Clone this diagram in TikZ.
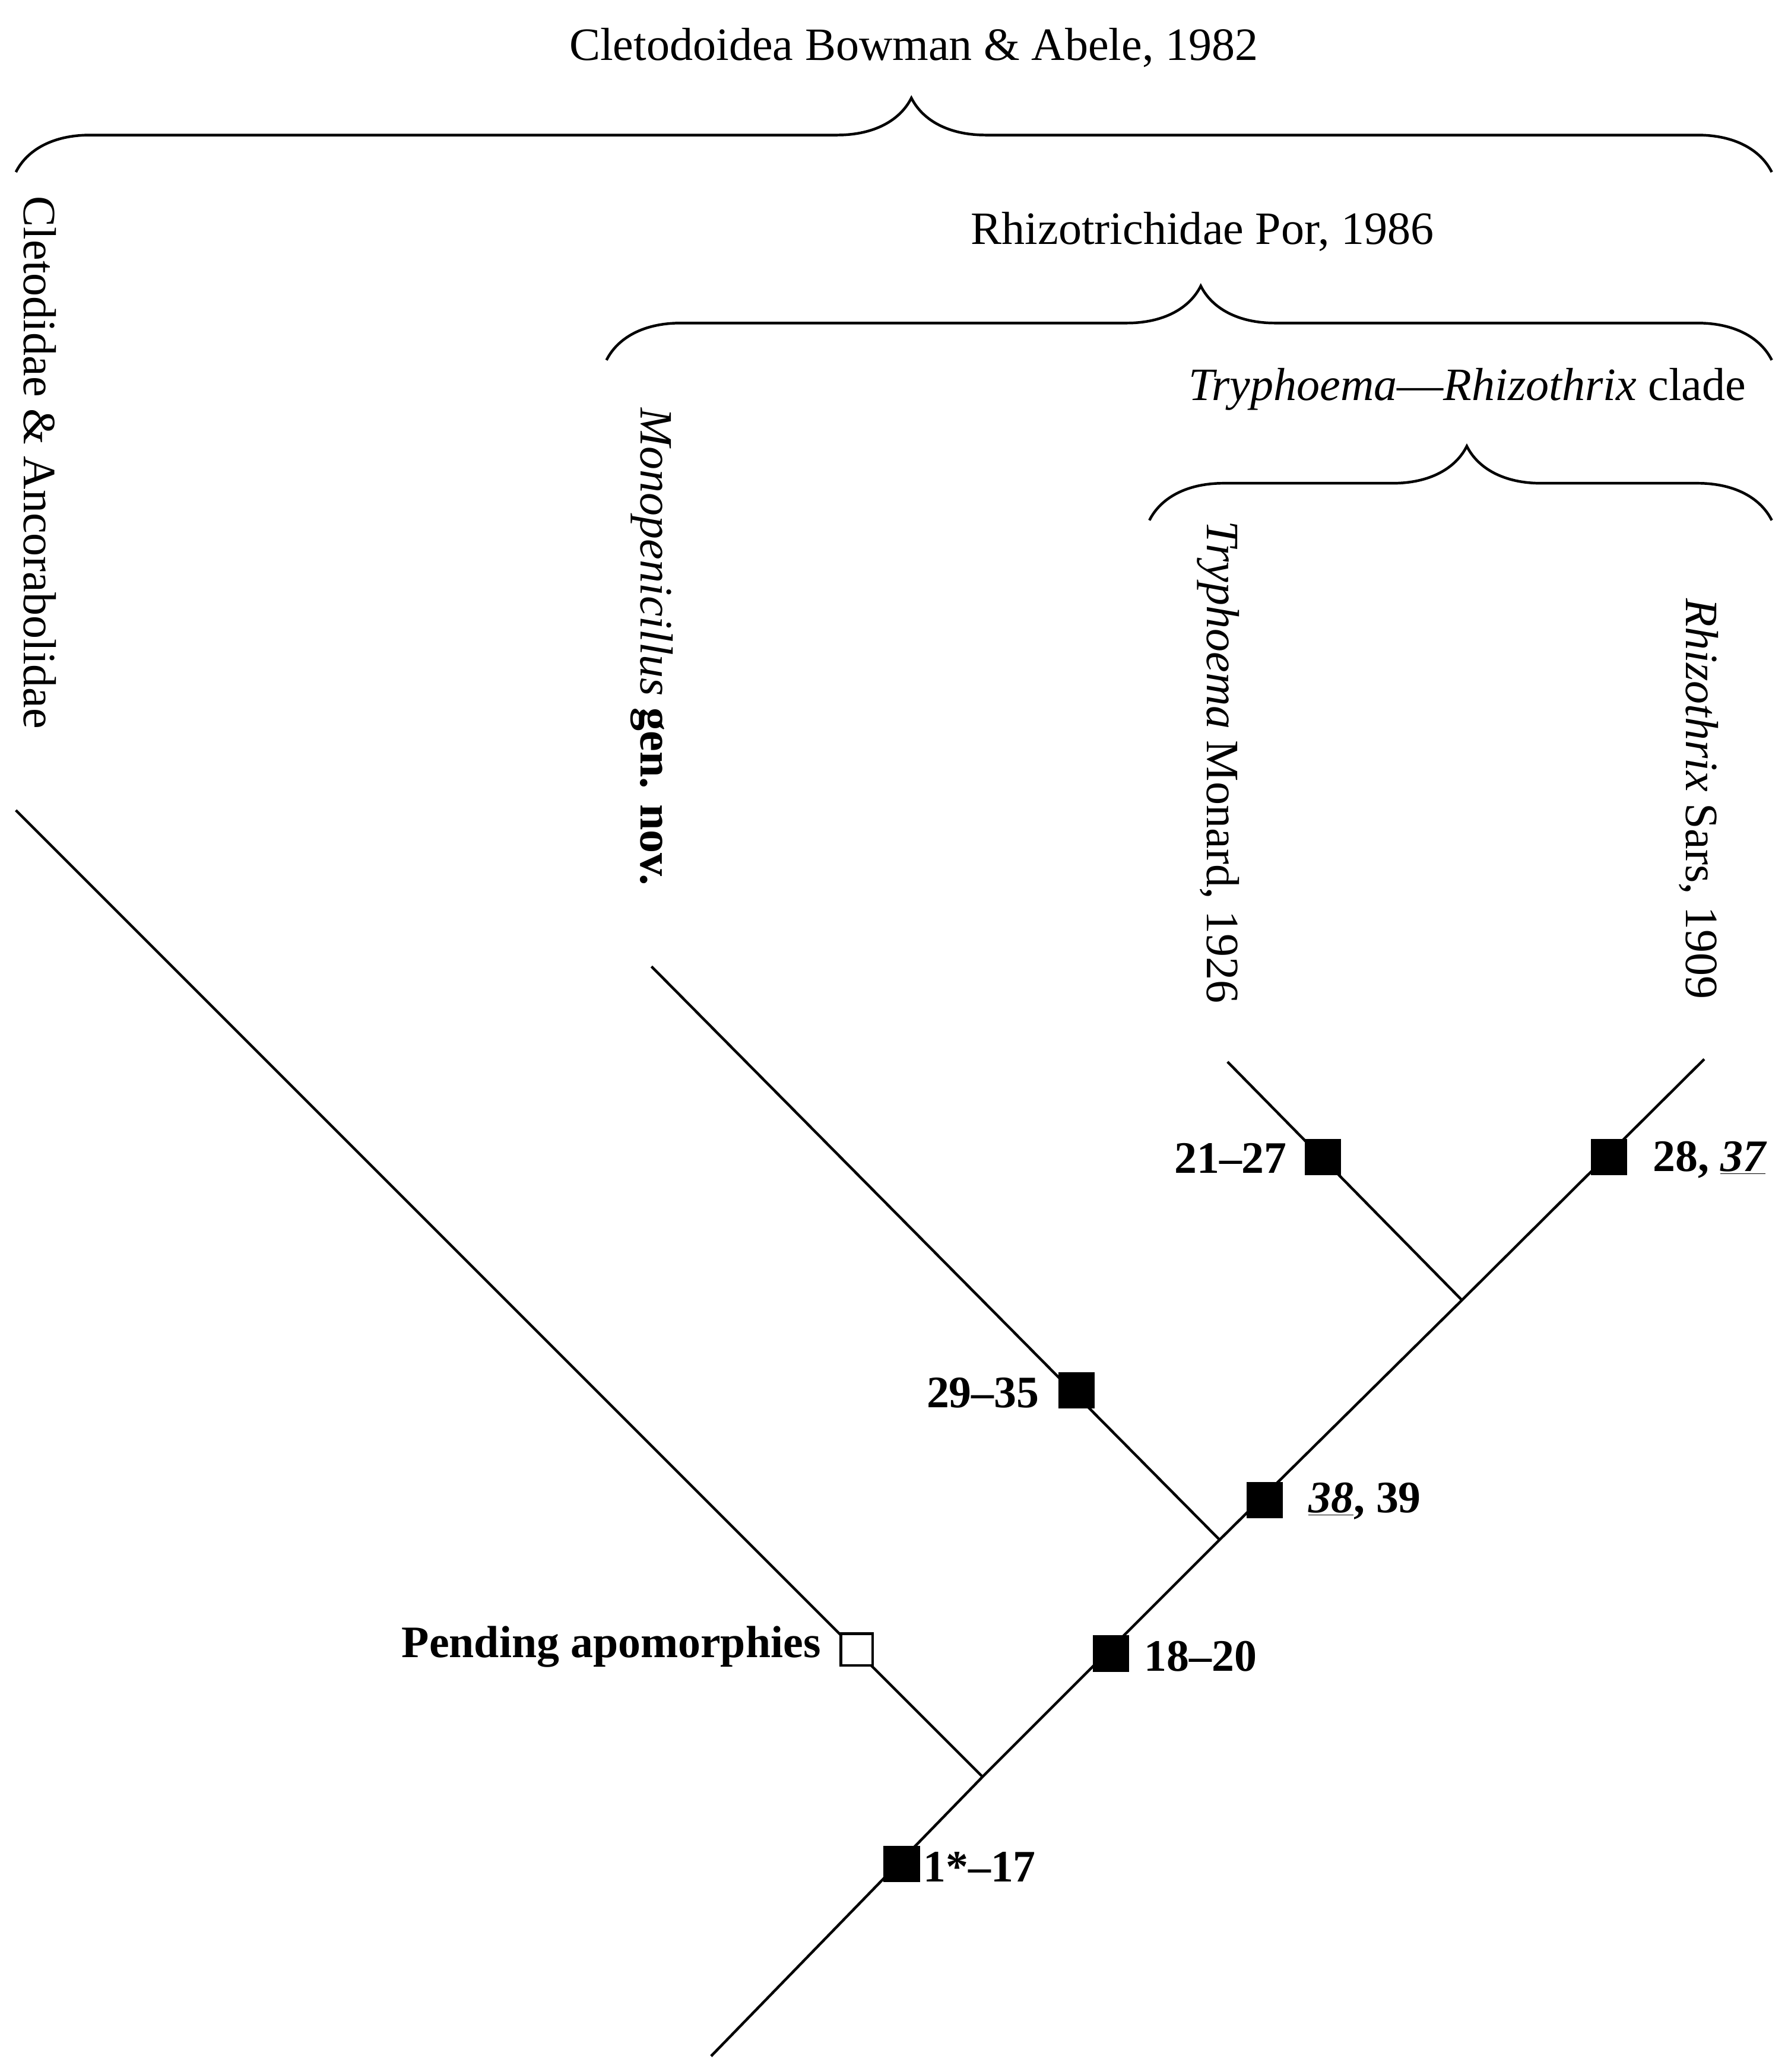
\documentclass[tikz,border=0pt]{standalone}
\usepackage{fontspec}
\setmainfont{Liberation Serif}
\usetikzlibrary{decorations.pathreplacing}
\begin{document}
\begin{tikzpicture}[x=1pt,y=-1pt,
  edge/.style={line width=2pt},
  sq/.style={draw,fill=black,minimum size=26pt,inner sep=0pt,line width=1.5pt},
  osq/.style={draw,fill=white,minimum size=24pt,inner sep=0pt,line width=2pt},
  lab/.style={font=\fontsize{34}{40}\selectfont\bfseries,inner sep=0pt},
  txt/.style={font=\fontsize{35}{40}\selectfont,inner sep=0pt},
  vtxt/.style={txt,rotate=-90,anchor=west},
  br/.style={line width=2pt,decorate,decoration={brace,amplitude=56pt,aspect=0.51}}]
\useasboundingbox (0,0) rectangle (1350,1565);
\coordinate (root) at (537,1553);
\coordinate (A) at (742,1342);
\coordinate (B) at (921,1163);
\coordinate (C) at (1104,982);
\coordinate (tCl) at (12,612);
\coordinate (tMo) at (492,730);
\coordinate (tTr) at (927,802);
\coordinate (tRh) at (1287,800);
\draw[edge] (root) -- (A) -- (B) -- (C) -- (tRh);
\draw[edge] (A) -- (tCl);
\draw[edge] (B) -- (tMo);
\draw[edge] (C) -- (tTr);
\node[sq] (s1) at (681,1408) {};
\node[sq] (s2) at (839,1249) {};
\node[sq] (s3) at (955,1133) {};
\node[sq] (s4) at (813,1050) {};
\node[sq] (s5) at (999,874) {};
\node[sq] (s6) at (1215,874) {};
\node[osq] (s0) at (647,1246) {};
\node[lab,anchor=west] (l1) at (697,1410) {1*–17};
\node[lab,anchor=west] (l2) at (864,1251) {18–20};
\node[lab,anchor=west] (l3) at (988,1134) {\underline{\itshape 38}, 39};
\node[lab,anchor=east] (l4) at (785,1052) {29–35};
\node[lab,anchor=east] (l5) at (972,875) {21–27};
\node[lab,anchor=west] (l6) at (1248,876) {28, \underline{\itshape 37}};
\node[lab,anchor=east] (l0) at (620,1244) {Pending apomorphies};
\node[vtxt] (vCl) at (30,148) {Cletodidae \& Ancorabolidae};
\node[vtxt] (vMo) at (492,308) {\itshape Monopenicillus \bfseries\upshape gen. nov.};
\node[vtxt] (vTr) at (920,393) {\itshape Tryphoema\upshape\ Monard, 1926};
\node[vtxt] (vRh) at (1283,452) {\itshape Rhizothrix\upshape\ Sars, 1909};
\draw[br] (12,130) -- (1338,130);
\draw[br] (458,272) -- (1338,272);
\draw[br] (868,393) -- (1338,393);
\node[txt] (t1) at (690,36) {Cletodoidea Bowman \& Abele, 1982};
\node[txt] (t2) at (908,175) {Rhizotrichidae Por, 1986};
\node[txt] (t3) at (1108,294) {\itshape Tryphoema\upshape—\itshape Rhizothrix\upshape\ clade};
\end{tikzpicture}
\end{document}
